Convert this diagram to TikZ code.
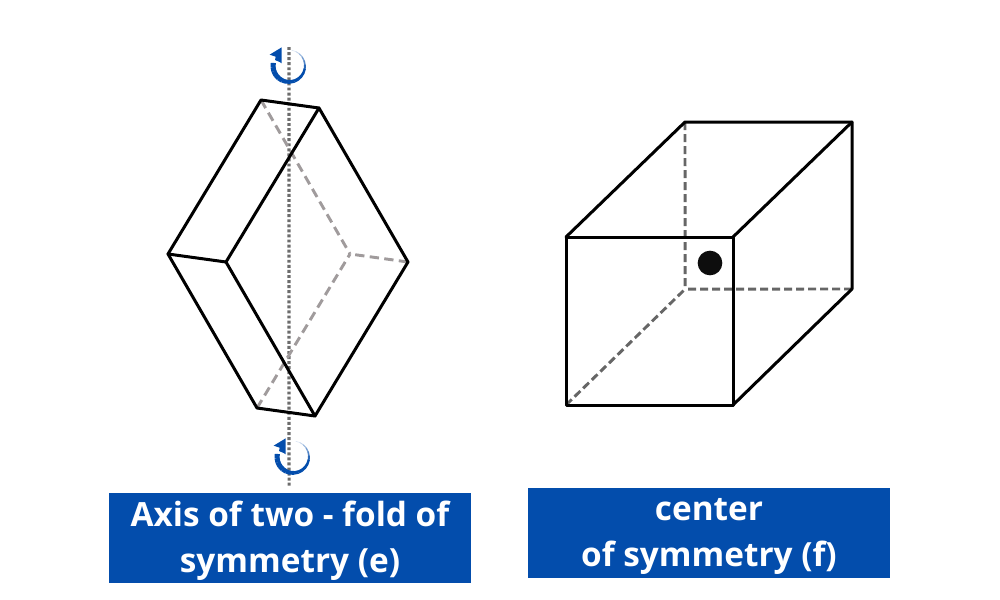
\documentclass[tikz,border=0pt]{standalone}
\usepackage{fontspec}
\setmainfont{Open Sans}
\usepackage{xcolor}
\definecolor{capblue}{HTML}{034DAC}
\definecolor{hidelight}{HTML}{A09B9C}
\definecolor{hidedark}{HTML}{666666}
\tikzset{x=.75pt,y=-.75pt,
 solidedge/.style={draw=black,line width=2.25pt,line join=round,line cap=round},
 hiddenlight/.style={draw=hidelight,line width=2.2pt,dash pattern=on 7pt off 4pt},
 hiddendark/.style={draw=hidedark,line width=2.2pt,dash pattern=on 6pt off 3pt},
 axisline/.style={draw=gray!85!black,line width=2.4pt,dash pattern=on 2.2pt off 1.6pt},
 capbox/.style={fill=capblue,minimum width=271.5pt,minimum height=67.5pt,inner sep=0pt},
 captext/.style={text=white,inner sep=0pt,align=center,font=\fontsize{25}{34.5}\selectfont\bfseries},
 pics/turn/.style={code={
  \foreach \a/\w/\m in {80/.4/15,65/.6/25,50/.8/40,35/1/55,20/1.2/70,5/1.5/85,-10/1.8/100,-25/2/100,-40/2.2/100,-55/2.4/100,-70/2.6/100,-85/2.9/100,-100/3.2/100,-115/3.5/100,-130/3.7/100,-145/3.8/100,-160/3.8/100,-175/3.8/100}
   \draw[capblue!\m!white,line width=\w pt] (\a:12pt) arc[start angle=\a,end angle=\a-16,radius=12pt];
  \fill[capblue] (-5.5pt,14pt) -- (-14.5pt,8.5pt) -- (-10pt,7pt) -- (-10.5pt,4.5pt) -- (-7pt,3pt) -- (-5.5pt,2pt) -- cycle;
 }},
}
\begin{document}
\begin{tikzpicture}
    \useasboundingbox (0,0) rectangle (1000,600);
    % rhomb with the two-fold axis
    \coordinate (ra) at (261,100);
    \coordinate (rb) at (319,108);
    \coordinate (rc) at (408,262);
    \coordinate (rd) at (315,416);
    \coordinate (re) at (257,408);
    \coordinate (rf) at (168,254);
    \coordinate (rg) at (226,262);
    \coordinate (rh) at (350,254);
    \coordinate (axistop) at (289,47);
    \coordinate (axisbottom) at (289.1,487);
    \draw [axisline] (axistop) -- (axisbottom);
    \draw [hiddenlight] (ra) -- (rh);
    \draw [hiddenlight] (rc) -- (rh);
    \draw [hiddenlight] (re) -- (rh);
    \draw [solidedge] (rf) -- (ra) -- (rb) -- (rc) -- (rd) -- (re) -- cycle;
    \draw [solidedge] (rb) -- (rg) -- (rd);
    \draw [solidedge] (rf) -- (rg);
    \pic at (289,66) {turn};
    \pic at (293,457) {turn};
    % cube with the center
    \coordinate (ca) at (566,237);
    \coordinate (cb) at (733,237);
    \coordinate (cc) at (733,405);
    \coordinate (cd) at (566,405);
    \coordinate (ce) at (685,122);
    \coordinate (cf) at (852,122);
    \coordinate (cg) at (852,289);
    \coordinate (ch) at (685.1,289.1);
    \draw [hiddendark] (ce) -- (ch);
    \draw [hiddendark] (cg) -- (ch);
    \draw [hiddendark] (cd) -- (ch);
    \draw [solidedge] (ca) -- (cb) -- (cc) -- (cd) -- cycle;
    \draw [solidedge] (ca) -- (ce) -- (cf) -- (cg) -- (cc);
    \draw [solidedge] (cb) -- (cf);
    \node [circle,fill=black!95,minimum size=18.5pt,inner sep=0pt] (center) at (710,263) {};
    % captions
    \node [capbox] (capleft) at (290,538) {};
    \node [capbox] (capright) at (709,533) {};
    \node [captext] (textleft) at ([yshift=-2.25pt]capleft.center) {Axis of two - fold of\\symmetry (e)};
    \node [captext] (textright) at ([yshift=-2.25pt]capright.center) {center\\of symmetry (f)};
\end{tikzpicture}
\end{document}
